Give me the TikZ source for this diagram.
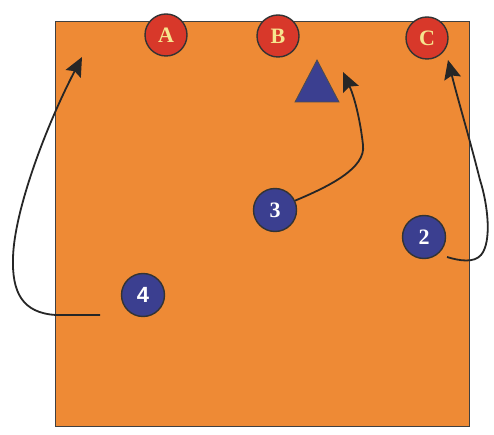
\documentclass[tikz,border=0pt]{standalone}
\usepackage{fontspec}
\setmainfont{Liberation Serif}
\newfontfamily\numsans{Liberation Sans}
\usetikzlibrary{arrows.meta}
\definecolor{court}{HTML}{EE8A35}
\definecolor{redp}{HTML}{D8382A}
\definecolor{bluep}{HTML}{3B3F90}
\definecolor{yel}{HTML}{F6E58E}
\tikzset{
  redplayer/.style={circle,draw=black!80,line width=1.4pt,fill=redp,minimum size=42pt,inner sep=0pt,text=yel,font=\fontsize{22}{22}\selectfont\bfseries},
  blueplayer/.style={circle,draw=black!80,line width=1.4pt,fill=bluep,minimum size=43pt,inner sep=0pt,text=white,font=\fontsize{22}{22}\selectfont\bfseries},
  run/.style={draw=black!85,line width=1.8pt,-{Stealth[length=19pt,width=17pt,inset=3pt]}}
}
\begin{document}
\begin{tikzpicture}[x=1pt,y=-1pt]
\useasboundingbox (0,0) rectangle (494,435);
\fill[white] (0,0) rectangle (494,435);
\draw[fill=court,draw=black!75,line width=1pt] (55,22) rectangle (469,426);
\node[redplayer] (A) at (166,35) {A};
\node[redplayer] (B) at (278,36) {B};
\node[redplayer] (C) at (427,38) {C};
\fill[bluep,draw=black!70,line width=0.8pt] (317,60) -- (339,102) -- (295,102) -- cycle;
\node[blueplayer] (n4) at (143,295) {\numsans 4};
\node[blueplayer] (n3) at (275,210) {3};
\node[blueplayer] (n2) at (424,237) {2};
\coordinate (s4) at (100,315);
\coordinate (e4) at (82,57);
\coordinate (e3) at (343,72);
\coordinate (s2) at (447,257);
\coordinate (e2) at (448,60);
\draw[run] (s4) -- (56,315) .. controls (22,313) and (12,292) .. (13,258) .. controls (14,212) and (45,128) .. (e4);
\draw[run] (n3.25) .. controls (330,186) and (366,168) .. (363,145) .. controls (360,118) and (354,96) .. (e3);
\draw[run] (s2) .. controls (460,261) and (474,263) .. (481,255) .. controls (492,242) and (488,205) .. (480,180) .. controls (470,140) and (458,100) .. (e2);
\end{tikzpicture}
\end{document}
